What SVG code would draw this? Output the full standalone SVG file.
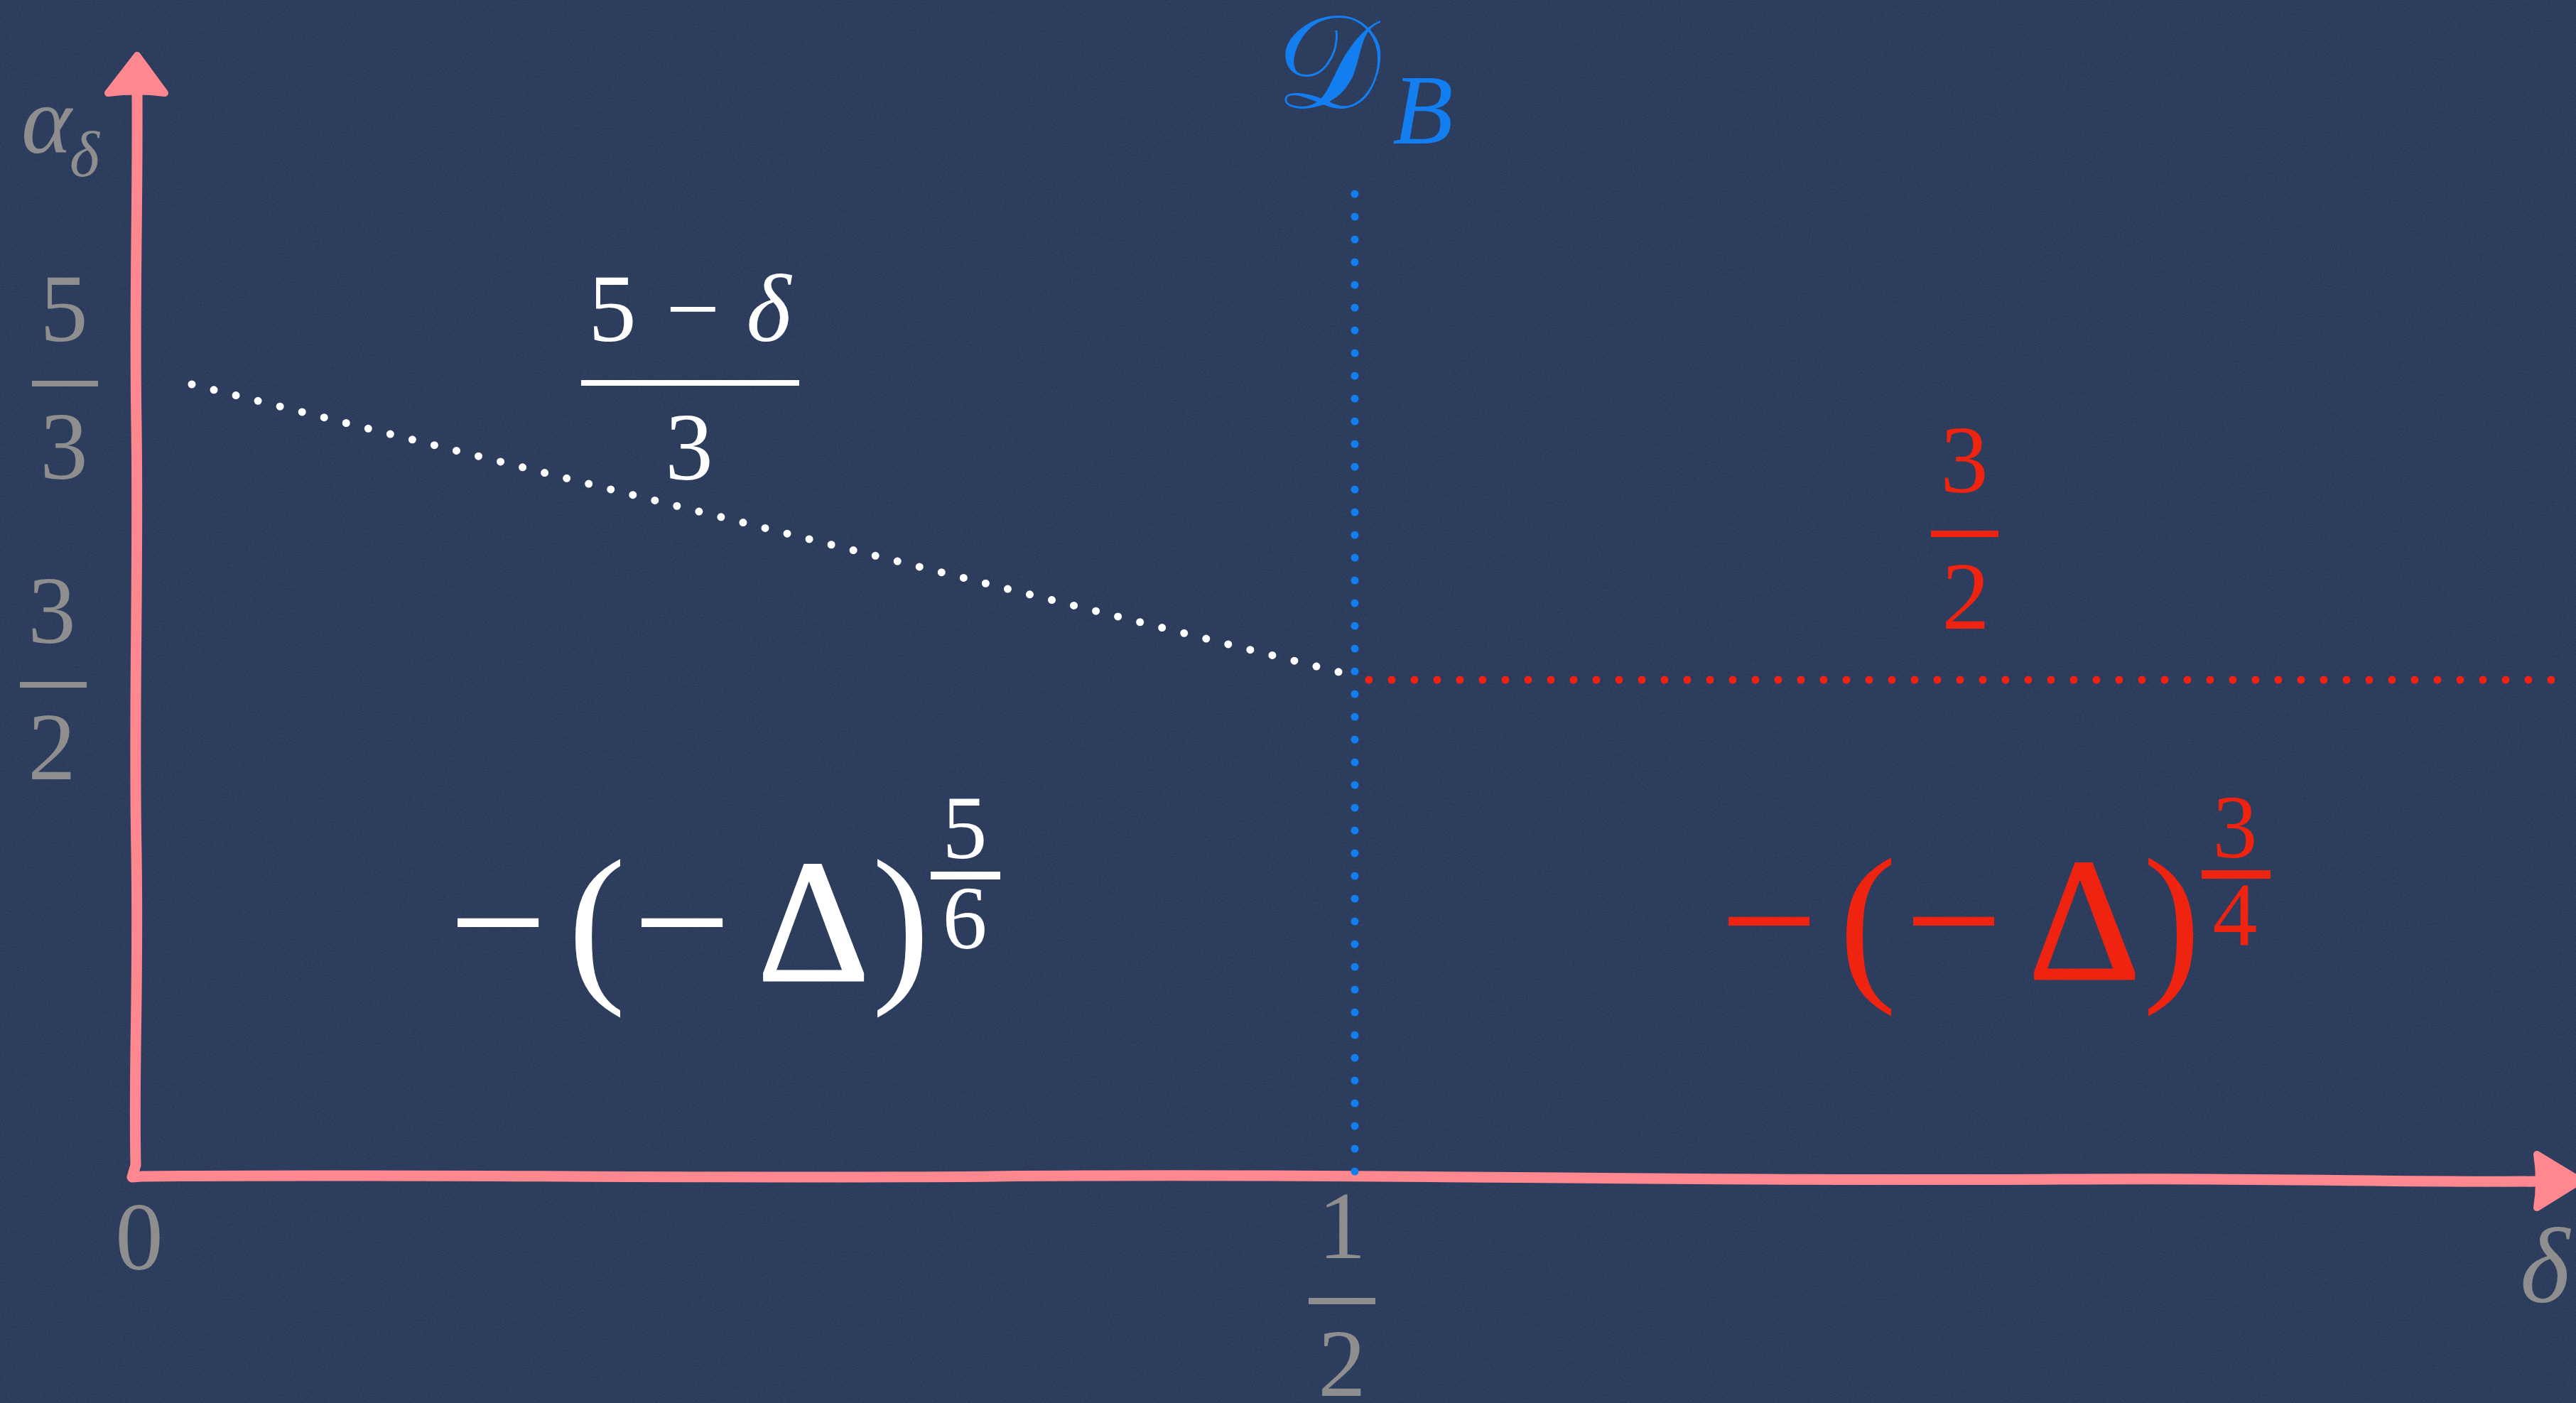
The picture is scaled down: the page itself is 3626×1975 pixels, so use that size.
<svg xmlns="http://www.w3.org/2000/svg" width="3626" height="1975" viewBox="0 0 3626 1975">
<style>
text{font-family:'Liberation Serif','DejaVu Serif',serif;}
.g{fill:#8e8e8e;}
.w{fill:#ffffff;}
.r{fill:#ee2310;}
.b{fill:#137ef0;}
.it{font-style:italic;}
.mid{text-anchor:middle;}
.heavy{stroke-width:3;}
.w.heavy{stroke:#ffffff;}
.r.heavy{stroke:#ee2310;}
.axis{fill:none;stroke:#ff8790;stroke-width:15;stroke-linecap:round;stroke-linejoin:round;}
.head{fill:#ff8790;stroke:#ff8790;stroke-width:10;stroke-linejoin:round;}
.dots{fill:none;stroke-width:11;stroke-linecap:round;stroke-dasharray:0 32;}
</style>
<defs>
  <filter id="paper" x="0" y="0" width="100%" height="100%">
    <feTurbulence type="fractalNoise" baseFrequency="0.55" numOctaves="3" seed="7"/>
    <feColorMatrix type="matrix" values="0 0 0 0 1  0 0 0 0 1  0 0 0 0 1  0.35 0 0 0 -0.12"/>
  </filter>
</defs>
<rect width="3626" height="1975" fill="#2a3a5b"/>
<rect width="3626" height="1975" filter="url(#paper)" opacity="0.3"/>

<g id="connectors">
  <path class="axis" d="M193,130 C194,300 189,420 192,600 C195,800 188,1000 192,1200 C195,1400 188,1500 191,1640 L186,1657 L200,1656 C600,1652 1000,1660 1400,1656 C1900,1651 2400,1664 2900,1660 C3200,1658 3400,1665 3570,1663"/>
  <path id="arrow-y" class="head" d="M193,78 L232,131 Q193,126 152,131 Z"/>
  <path id="arrow-x" class="head" d="M3571,1625 L3632,1662 L3571,1700 Q3577,1662 3571,1625 Z"/>
  <line id="line-DB" class="dots" x1="1907" y1="273" x2="1907" y2="1651" stroke="#137ef0"/>
  <line id="line-white" class="dots" x1="270" y1="541" x2="1886" y2="946.3" stroke="#ffffff"/>
  <line id="line-red" class="dots" x1="1927" y1="957" x2="3593" y2="957" stroke="#ee2310"/>
</g>

<g id="label-alpha">
  <text class="g it" x="30" y="215" font-size="135">α</text>
  <text class="g it" x="98" y="248" font-size="90">δ</text>
</g>

<g id="tick-5-3">
  <text class="g mid" x="90" y="480" font-size="135">5</text>
  <rect class="g" x="45" y="536" width="93" height="8"/>
  <text class="g mid" x="90" y="674" font-size="135">3</text>
</g>

<g id="tick-3-2">
  <text class="g mid" x="73" y="905" font-size="135">3</text>
  <rect class="g" x="28" y="960" width="94" height="8"/>
  <text class="g mid" x="73" y="1097" font-size="135">2</text>
</g>

<g id="tick-0">
  <text class="g mid" x="196" y="1787" font-size="135">0</text>
</g>

<g id="tick-1-2">
  <text class="g mid" x="1889" y="1771" font-size="135">1</text>
  <rect class="g" x="1842" y="1827" width="94" height="9"/>
  <text class="g mid" x="1889" y="1965" font-size="135">2</text>
</g>

<g id="label-delta">
  <text class="g it mid" x="3582" y="1833" font-size="150">δ</text>
</g>

<g id="label-DB">
  <text class="b" x="1795" y="152" font-size="186">𝒟</text>
  <text class="b it" x="1960" y="202" font-size="140">B</text>
</g>

<g id="label-5-delta-3">
  <text class="w mid" x="862" y="480" font-size="135">5</text>
  <text class="w mid" x="975" y="480" font-size="135">−</text>
  <text class="w it mid" x="1082" y="480" font-size="135">δ</text>
  <rect class="w" x="818" y="535" width="307" height="8"/>
  <text class="w mid" x="970" y="675" font-size="135">3</text>
</g>

<g id="label-3-2-red">
  <text class="r mid" x="2765" y="693" font-size="135">3</text>
  <rect class="r" x="2718" y="747" width="95" height="9"/>
  <text class="r mid" x="2767" y="885" font-size="135">2</text>
</g>

<g id="expr-white">
  <text class="w mid" x="701" y="1380" font-size="245">−</text>
  <text class="w mid" x="840" y="1380" font-size="245">(</text>
  <text class="w mid" x="960" y="1380" font-size="245">−</text>
  <text class="w mid heavy" x="1145" y="1380" font-size="245">Δ</text>
  <text class="w mid" x="1268" y="1380" font-size="245">)</text>
  <text class="w mid" x="1358" y="1208" font-size="126">5</text>
  <rect class="w" x="1310" y="1227" width="98" height="11"/>
  <text class="w mid" x="1358" y="1335" font-size="126">6</text>
</g>

<g id="expr-red">
  <text class="r mid" x="2490" y="1378" font-size="245">−</text>
  <text class="r mid" x="2629" y="1378" font-size="245">(</text>
  <text class="r mid" x="2750" y="1378" font-size="245">−</text>
  <text class="r mid heavy" x="2934" y="1378" font-size="245">Δ</text>
  <text class="r mid" x="3057" y="1378" font-size="245">)</text>
  <text class="r mid" x="3146" y="1207" font-size="126">3</text>
  <rect class="r" x="3099" y="1225" width="97" height="12"/>
  <text class="r mid" x="3146" y="1330" font-size="126">4</text>
</g>
</svg>
